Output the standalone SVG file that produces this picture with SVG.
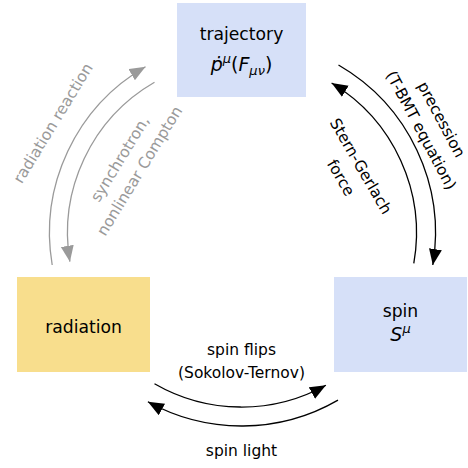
<svg xmlns="http://www.w3.org/2000/svg" width="468" height="468" viewBox="0 0 468 468">
<style>
.node-text{font-family:"DejaVu Sans",sans-serif;font-size:17.2px;fill:#000;text-anchor:middle}
.math{font-family:"DejaVu Sans",sans-serif;font-size:19px;fill:#000;text-anchor:middle}
.lbl{font-family:"DejaVu Sans",sans-serif;font-size:15.5px;fill:#000;text-anchor:middle}
.glbl{font-family:"DejaVu Sans",sans-serif;font-size:15.5px;fill:#9a9a9a;text-anchor:middle}
.it{font-style:italic}
.blk{fill:none;stroke:#000;stroke-width:1.3}
.gry{fill:none;stroke:#9a9a9a;stroke-width:1.3}
</style>
<defs>
<marker id="ah" markerUnits="userSpaceOnUse" markerWidth="18" markerHeight="16" refX="16" refY="6.5" orient="auto">
<path d="M0,0 L16,6.5 L0,13 z" fill="#000"/>
</marker>
<marker id="ahg" markerUnits="userSpaceOnUse" markerWidth="18" markerHeight="16" refX="16" refY="6.5" orient="auto">
<path d="M0,0 L16,6.5 L0,13 z" fill="#9a9a9a"/>
</marker>
</defs>
<rect width="468" height="468" fill="#fff"/>
<g id="trajectory">
<rect x="177" y="3" width="129" height="94" fill="#d6e0f8"/>
<text class="node-text" x="241.5" y="40">trajectory</text>
<text class="math" x="241.5" y="71"><tspan class="it">ṗ</tspan><tspan class="it" font-size="13" dy="-8">μ</tspan><tspan dy="8">(</tspan><tspan class="it">F</tspan><tspan class="it" font-size="13" dy="4">μν</tspan><tspan dy="-4">)</tspan></text>
</g>
<g id="spin">
<rect x="334" y="277" width="133" height="95" fill="#d6e0f8"/>
<text class="node-text" x="400.5" y="317">spin</text>
<text class="math" x="400.5" y="341"><tspan class="it">S</tspan><tspan class="it" font-size="13" dy="-8">μ</tspan></text>
</g>
<g id="radiation">
<rect x="17" y="277" width="133" height="95" fill="#f8de8d"/>
<text class="node-text" x="83.5" y="333">radiation</text>
</g>
<g id="connectors">
<path class="blk" d="M338.5,65 A194,194 0 0 1 432.8,265" marker-end="url(#ah)"/>
<path class="blk" d="M413.8,263.4 A175,175 0 0 0 331.6,83" marker-end="url(#ah)"/>
<path class="gry" d="M52.2,265 A192,192 0 0 1 145.5,66.7" marker-end="url(#ahg)"/>
<path class="gry" d="M154.5,82.3 A174,174 0 0 0 69.9,261.7" marker-end="url(#ahg)"/>
<path class="blk" d="M154.5,383.7 A174,174 0 0 0 325.9,385.2" marker-end="url(#ah)"/>
<path class="blk" d="M338,400.1 A193,193 0 0 1 147.9,401.8" marker-end="url(#ah)"/>
<text class="lbl" transform="translate(441.2,119.6) rotate(62)" y="5">precession</text>
<text class="lbl" transform="translate(420.8,130.4) rotate(62)" y="5">(T-BMT equation)</text>
<text class="lbl" transform="translate(360.5,166.3) rotate(60)" y="5">Stern-Gerlach</text>
<text class="lbl" transform="translate(340.5,177.8) rotate(60)" y="5">force</text>
<text class="glbl" transform="translate(53.3,123.3) rotate(-58.6)" y="5">radiation reaction</text>
<text class="glbl" transform="translate(120.2,159) rotate(-58.5)" y="5">synchrotron,</text>
<text class="glbl" transform="translate(139.8,171) rotate(-58.5)" y="5">nonlinear Compton</text>
<text class="lbl" x="241.5" y="355">spin flips</text>
<text class="lbl" x="241.5" y="378">(Sokolov-Ternov)</text>
<text class="lbl" x="241.5" y="456">spin light</text>
</g>
</svg>
